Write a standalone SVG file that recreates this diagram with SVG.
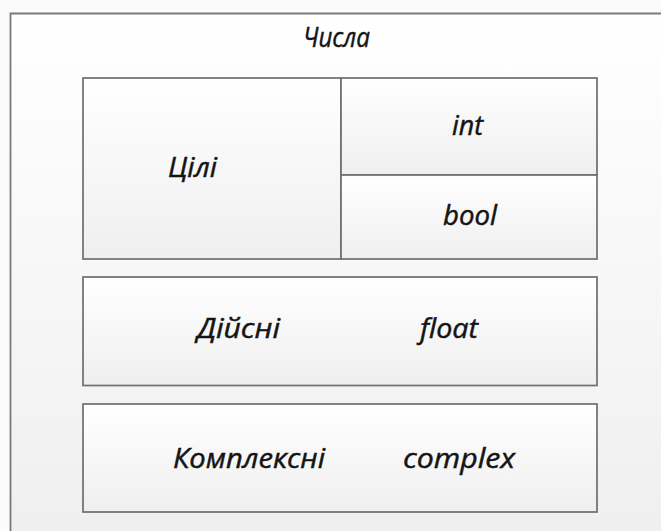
<svg xmlns="http://www.w3.org/2000/svg" width="661" height="531" viewBox="0 0 661 531">
  <defs>
    <linearGradient id="frameFill" x1="0" y1="0" x2="0" y2="1">
      <stop offset="0" stop-color="#ffffff"/>
      <stop offset="1" stop-color="#efefef"/>
    </linearGradient>
    <linearGradient id="boxFill" x1="0" y1="0" x2="0" y2="1">
      <stop offset="0" stop-color="#ffffff"/>
      <stop offset="1" stop-color="#efefef"/>
    </linearGradient>
    <style>
      .box { fill: url(#boxFill); stroke: #6e6e6e; stroke-width: 1.7; }
      .lbl { font-family: "Open Sans", "Noto Sans", "DejaVu Sans", sans-serif; font-style: italic; font-size: 27px; fill: #141414; stroke: #141414; stroke-width: 0.45; text-anchor: middle; }
    </style>
  </defs>

  <rect width="661" height="531" fill="#fbfbfb"/>

  <!-- outer frame: "Числа" -->
  <g id="numbers">
    <rect x="10.5" y="13.5" width="660" height="530" fill="url(#frameFill)"/>
    <path d="M10.5,531 V13.5 H661" fill="none" stroke="#7a7a7a" stroke-width="1.8"/>
    <text class="lbl" x="336.5" y="47" textLength="67" lengthAdjust="spacingAndGlyphs">Числа</text>
  </g>

  <!-- integers block, split on the right into int / bool -->
  <g id="integers">
    <rect class="box" x="83" y="78" width="258" height="181"/>
    <text class="lbl" x="192.5" y="177" textLength="49" lengthAdjust="spacingAndGlyphs">Цілі</text>
  </g>
  <g id="int">
    <rect class="box" x="341" y="78" width="256" height="97"/>
    <text class="lbl" x="467.5" y="135" textLength="31" lengthAdjust="spacingAndGlyphs">int</text>
  </g>
  <g id="bool">
    <rect class="box" x="341" y="175" width="256" height="84"/>
    <text class="lbl" x="470" y="225" textLength="54" lengthAdjust="spacingAndGlyphs">bool</text>
  </g>

  <g id="reals">
    <rect class="box" x="83" y="277" width="514" height="108.5"/>
    <text class="lbl" x="238.5" y="338" textLength="83" lengthAdjust="spacingAndGlyphs">Дійсні</text>
    <text class="lbl" x="449" y="338" textLength="58" lengthAdjust="spacingAndGlyphs">float</text>
  </g>

  <g id="complex">
    <rect class="box" x="83" y="404" width="514" height="108"/>
    <text class="lbl" x="249" y="468" textLength="152" lengthAdjust="spacingAndGlyphs">Комплексні</text>
    <text class="lbl" x="459" y="468" textLength="112" lengthAdjust="spacingAndGlyphs">complex</text>
  </g>
</svg>
